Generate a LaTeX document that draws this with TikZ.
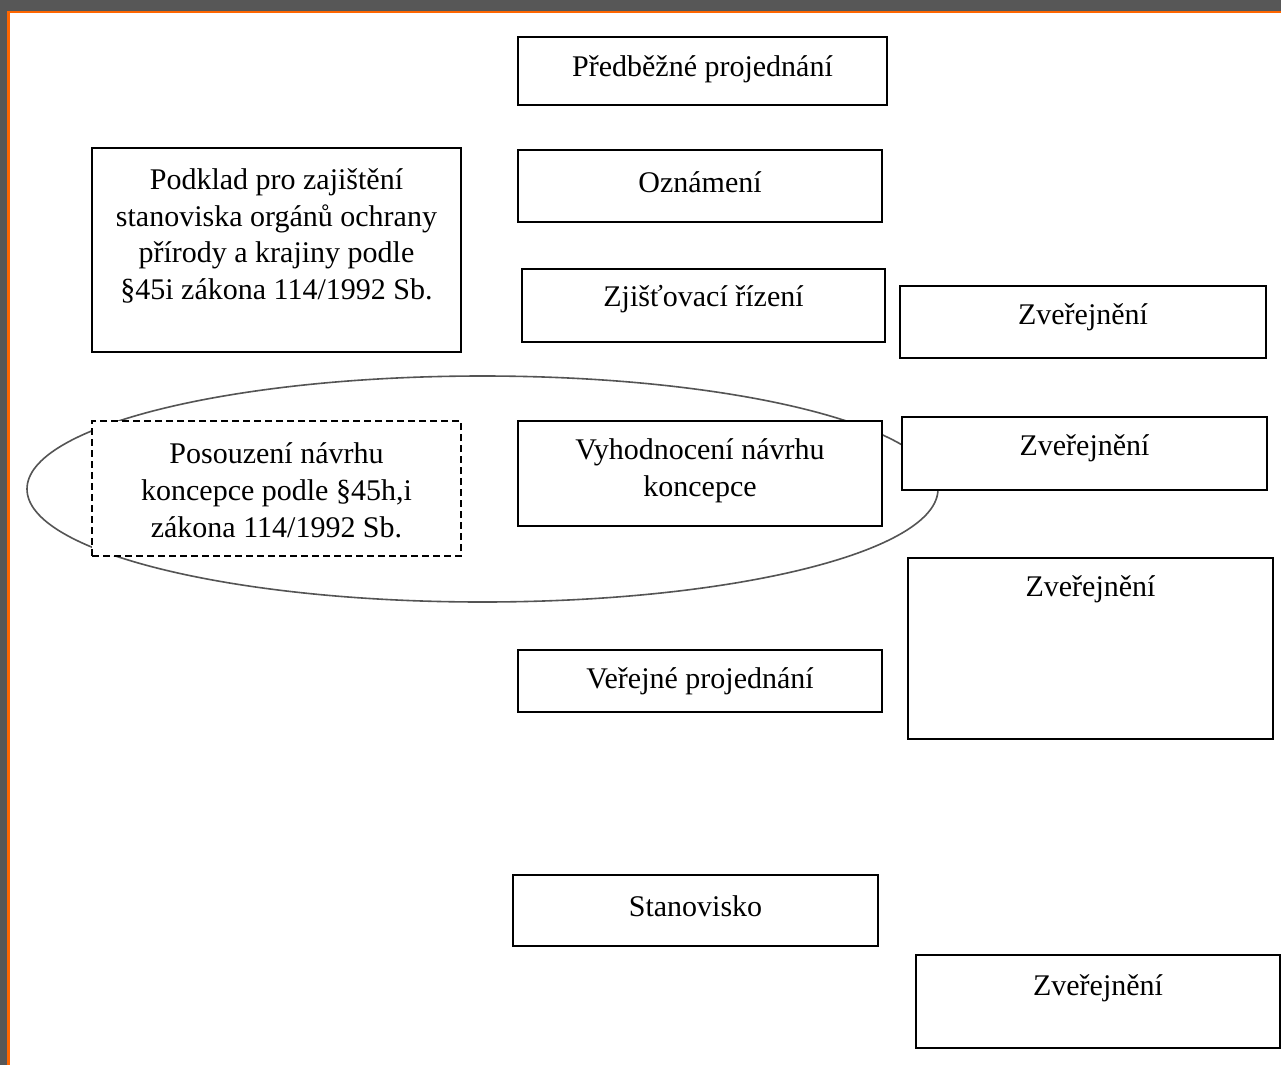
\documentclass[tikz,border=0pt]{standalone}
\usepackage{fontspec}
\setmainfont{Liberation Serif}
\usepackage{tikz}
\definecolor{frmgray}{rgb}{0.34,0.34,0.34}
\definecolor{frmorange}{rgb}{1.,0.4,0.}
\definecolor{elgray}{rgb}{0.33,0.33,0.33}
\tikzstyle{every node}=[font=\fontsize{30}{36.8}\selectfont]

\begin{document}
\begin{tikzpicture}[x=1pt,y=-1pt,line join=miter,
  box/.style={draw=black,line width=2pt,fill=white,inner sep=0pt},
  dashbox/.style={box,line width=1.8pt,dash pattern=on 7pt off 4pt},
  txt/.style={align=center,inner sep=0pt}]
\useasboundingbox (0,0) rectangle (1281,1065);
\fill[white] (0,0) rectangle (1281,1065);
% frame
\fill[frmgray] (0,0) rectangle (1281,11);
\fill[frmgray] (0,0) rectangle (7,1065);
\fill[frmorange] (7,11) rectangle (1281,13.5);
\fill[frmorange] (7,11) rectangle (9.5,1065);
% ellipse behind the boxes
\draw[elgray,line width=1.6pt] (482.5,489) ellipse [x radius=455.5,y radius=113];
% boxes
\node[box,minimum width=369pt,minimum height=68pt] (pred) at (702.5,71) {};
\node[box,minimum width=364pt,minimum height=72pt] (ozn) at (700,186) {};
\node[box,minimum width=369pt,minimum height=204pt] (podklad) at (276.5,250) {};
\node[box,minimum width=363pt,minimum height=73pt] (zjist) at (703.5,305.5) {};
\node[box,minimum width=366pt,minimum height=72pt] (zver1) at (1083,322) {};
\node[dashbox,minimum width=369pt,minimum height=135pt] (posouz) at (276.5,488.5) {};
\node[box,minimum width=364pt,minimum height=105pt] (vyhod) at (700,473.5) {};
\node[box,minimum width=365pt,minimum height=73pt] (zver2) at (1084.5,453.5) {};
\node[box,minimum width=365pt,minimum height=181pt] (zver3) at (1090.5,648.5) {};
\node[box,minimum width=364pt,minimum height=62pt] (verej) at (700,681) {};
\node[box,minimum width=365pt,minimum height=71pt] (stan) at (695.5,910.5) {};
\node[box,minimum width=364pt,minimum height=93pt] (zver4) at (1098,1001.5) {};
% texts
\node[txt] (predT) at (702.5,69) {Předběžné projednání};
\node[txt] (oznT) at (700,182) {Oznámení};
\node[txt] (podkladT) at (276.5,236) {Podklad pro zajištění\\stanoviska orgánů ochrany\\přírody a krajiny podle\\§45i zákona 114/1992 Sb.};
\node[txt] (zjistT) at (703.5,299) {Zjišťovací řízení};
\node[txt] (zver1T) at (1083,317) {Zveřejnění};
\node[txt] (posouzT) at (276.5,490) {Posouzení návrhu\\koncepce podle §45h,i\\zákona 114/1992 Sb.};
\node[txt] (vyhodT) at (700,471) {Vyhodnocení návrhu\\koncepce};
\node[txt] (zver2T) at (1084.5,448) {Zveřejnění};
\node[txt] (zver3T) at (1090.5,589) {Zveřejnění};
\node[txt] (verejT) at (700,681) {Veřejné projednání};
\node[txt] (stanT) at (695.5,906) {Stanovisko};
\node[txt] (zver4T) at (1098,988) {Zveřejnění};
\end{tikzpicture}
\end{document}
